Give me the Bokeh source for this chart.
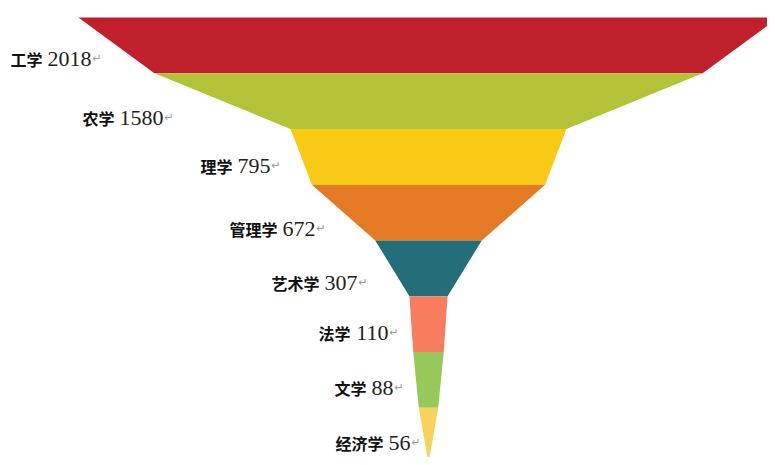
from bokeh.plotting import figure
from bokeh.models import Range1d, ColumnDataSource
from bokeh.core.properties import value
from bokeh.embed import file_html
from bokeh.resources import INLINE

# ---- data ----
categories = ["工学", "农学", "理学", "管理学", "艺术学", "法学", "文学", "经济学"]
counts = [2018, 1580, 795, 672, 307, 110, 88, 56]
colors = ["#BF202B", "#B3C236", "#F8C915", "#E47B24", "#236E78", "#F87D5E", "#97C85A", "#F6D35A"]

# ---- layout constants (px, relative to the picture) ----
PX_PER_UNIT = 0.347      # horizontal px per count unit
BAND_PX = 55.75          # height of one band in px
CENTER_X = 428           # x of funnel axis
TOP_Y = 17               # y of funnel top
W, H = 767, 457          # figure size
label_end_px = [91, 163, 270, 315, 357, 388, 393, 410]   # right end of number text
label_y_px = [58, 117, 165, 228, 282, 332, 387, 442]     # vertical centre of labels
NUM_FS = 22              # number font size px
NAME_FS = 16             # Chinese font size px
GAP_PX = 5

def sx(px):  # px -> data x
    return (px - CENTER_X) / PX_PER_UNIT

def sy(px):  # px -> data y (band units)
    return (px - TOP_Y) / BAND_PX

x_start = sx(0)
x_end = sx(W)
y_top = sy(0)
y_bottom = sy(H)

p = figure(width=W, height=H, x_range=Range1d(x_start, x_end),
           y_range=Range1d(y_bottom, y_top), toolbar_location=None,
           output_backend="svg", min_border=0, outline_line_color=None,
           background_fill_color="white", border_fill_color="white")
p.axis.visible = False
p.xgrid.visible = False
p.ygrid.visible = False

widths = counts + [0]
xs, ys = [], []
for i in range(len(counts)):
    a, b = widths[i] / 2, widths[i + 1] / 2
    xs.append([-a, a, b, -b])
    ys.append([i, i, i + 1, i + 1])
p.patches(xs=xs, ys=ys, fill_color=colors, line_color=None)

num_x, name_x, lab_y, nums, ret_x = [], [], [], [], []
for i, c in enumerate(counts):
    s = str(c)
    end = label_end_px[i]
    num_w = len(s) * 0.5 * NUM_FS
    num_x.append(sx(end))
    name_x.append(sx(end - num_w - GAP_PX))
    ret_x.append(sx(end + 1))
    lab_y.append(sy(label_y_px[i]))
    nums.append(s)

src = ColumnDataSource(dict(num_x=num_x, name_x=name_x, ret_x=ret_x, y=lab_y,
                            num=nums, name=categories, ret=["↵"] * len(counts)))
p.text(x="name_x", y="y", text="name", source=src, text_align="right",
       text_baseline="middle", text_font=value("Noto Sans CJK SC"),
       text_font_size=f"{NAME_FS}px", text_color="#111111", text_font_style="bold")
p.text(x="num_x", y="y", text="num", source=src, text_align="right",
       text_baseline="middle", text_font=value("Liberation Serif"),
       text_font_size=f"{NUM_FS}px", text_color="#222222")
p.text(x="ret_x", y="y", text="ret", source=src, text_align="left",
       text_baseline="middle", text_font=value("DejaVu Sans"),
       text_font_size="11px", text_color="#9a9a9a")

open("out.html", "w").write(file_html(p, INLINE))
